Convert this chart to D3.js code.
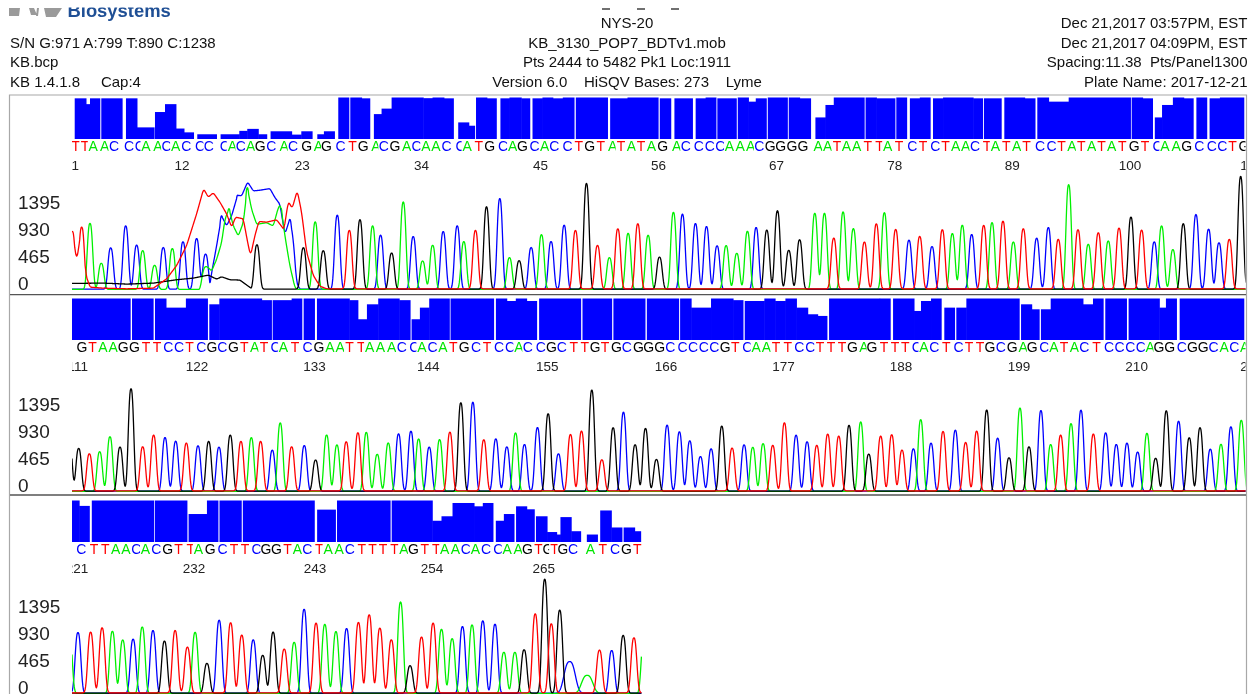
<!DOCTYPE html>
<html><head><meta charset="utf-8">
<script src="https://d3js.org/d3.v7.min.js"></script>
<style>html,body{margin:0;padding:0;background:#fff;overflow:hidden}svg{display:block;filter:blur(0.35px)}text{font-family:"Liberation Sans",Arial,sans-serif}</style>
</head><body><svg id="c" width="1260" height="694"></svg>
<script>
// ---- header text
const headerLeft = ["S/N G:971 A:799 T:890 C:1238","KB.bcp","KB 1.4.1.8\u00a0\u00a0\u00a0\u00a0\u00a0Cap:4"];
const headerCenter = ["NYS-20","KB_3130_POP7_BDTv1.mob","Pts 2444 to 5482 Pk1 Loc:1911","Version 6.0\u00a0\u00a0\u00a0\u00a0HiSQV Bases: 273\u00a0\u00a0\u00a0\u00a0Lyme"];
const headerRight = ["Dec 21,2017 03:57PM, EST","Dec 21,2017 04:09PM, EST","Spacing:11.38\u00a0\u00a0Pts/Panel1300","Plate Name: 2017-12-21"];
const rfuTicks = [0,465,930,1395];
const pointsPerPanel = 1300;
const totalBases = 273;

// ---- panel 1: base calls, peak location (scan points), peak height (RFU)
const firstBase1 = 1;
const bases1 = "TTAACCCAACACCCCACAGCACGAGCTGACGACAACCATGCAGCACCTGTATATAGACCCCAAACGGGGAATAATTATCTCTAACTATATCCTATATATGTCAAGCCCTGG";
const scans1 = [0.4,10.7,19.9,32.4,42.8,59.4,71.5,78.2,91.4,101,111,122.8,137.9,147.8,165.5,173.7,183.2,194,204.6,217,231,241,256,269.1,278,293.5,306.8,318.6,332.6,341.4,353.6,366.5,377.5,387.9,399,410.7,426.2,433.5,446.4,458.6,473.3,484,494.7,508,519.4,530,544.5,557,569.2,581.4,594.6,603.9,615.3,626,637.4,650,665.4,675.4,689.8,702,713.7,723.7,735.5,747.3,756.9,768.7,780.5,793,805,821.8,832.5,842.8,853.1,864.5,876.7,889.9,898.8,911.3,926,937.9,951.5,962.9,974,985,995.4,1008.7,1017.9,1030,1041.5,1052.5,1067.3,1080.2,1091.2,1102.7,1113,1124.4,1135.5,1146.5,1158.4,1171.6,1183.4,1197.4,1205.5,1218,1229.5,1243.5,1257.5,1269,1280.4,1293,1305];
const rfu1 = [987,1062,1137,448,712,1091,758,666,413,718,700,815,872,603,1263,1389,1619,1751,763,1600,1400,1200,712,1160,660,1274,1005,1194,1091,930,620,1504,907,488,758,993,1091,821,1005,1418,1561,545,488,718,941,821,1102,1005,1820,746,545,1033,964,1119,930,551,1326,1292,1131,1079,746,752,620,999,1062,1016,1349,666,850,1309,1309,872,1332,1045,804,1119,1320,1022,844,901,735,1016,959,1102,941,1091,1148,1165,815,1033,878,1062,850,1802,1016,775,964,832,1045,1240,1010,815,1091,683,1125,1286,1033,798,850,1940,900];
const qual1 = [[3,15.5,49],[15.5,19.9,42],[19.9,31.3,49],[32.4,56,49],[59.7,71.9,49],[71.9,91.4,14],[91.8,102.9,32.5],[102.9,115,42],[115,123.9,12.6],[123.9,135,8],[138.6,160.4,5.7],[164.4,185.1,5.7],[185.1,193.9,9.8],[193.9,206.1,12.2],[206.1,216,5.7],[219.7,243,9.3],[243,253.7,5.3],[253.7,266.2,9.3],[271.4,278.7,5.7],[278.7,290.9,9.3],[294.6,306.8,50],[307.9,320.4,50],[320.4,330,49],[334,342.5,30],[342.5,353.6,36.6],[353.6,388.6,50],[388.6,398.9,49.2],[398.9,411.5,50],[411.5,422.5,49],[427.3,439,20],[439,446,16],[447,459,50],[459,470,49],[474,484,49],[484,497,50],[497,507,49],[509.5,520.5,49],[520.5,532,50],[532,543,49],[543,556,50],[557.4,593,50],[595.4,614.6,49],[614.6,649,50],[650.3,663,49],[666.5,687,49],[690,701,49],[701,713,50],[714,735.5,49],[736.6,748.4,50],[748.4,756.5,45],[756.5,768.7,49],[769.8,792,50],[793,805,50],[805,817.7,49],[822.5,833.6,26],[833.6,842.8,41],[842.8,877,50],[878,890,50],[890,911,49],[912,924,50],[927,938,49],[938,950,50],[952.6,963.7,49],[963.7,997,50],[997,1008,49],[1009,1028.6,49],[1031.5,1054,50],[1054,1066,49],[1068,1080.5,50],[1080.5,1102.7,45],[1102.7,1171.6,50],[1172.4,1184.5,50],[1184.5,1196,49],[1198,1206,26],[1206,1218,41],[1218,1230,50],[1230,1241,49],[1244,1256,50],[1258.6,1270,49],[1270,1297,50]];
// dye-blob region of panel 1, read as [scan, RFU] points
const blobT = [[0.4,987],[5.2,488],[10.7,1062],[15.5,230],[19.9,29],[34.7,11],[60.5,0],[90,11],[104.7,172],[115.8,402],[126.8,746],[137.9,1292],[145.6,1722],[150.8,1579],[156.3,1653],[163.7,1492],[171,1292],[176.6,1062],[181,1234],[189.5,1205],[195,746],[197.6,574],[202.4,918],[206.8,1160],[215.3,1148],[226.4,1188],[234.5,1022],[239.3,1504],[243.7,1389],[249.2,1693],[254,1320],[259.6,631],[267,230],[274.3,46],[281.7,0]];
const blobC = [[151.9,0],[154.5,287],[160,746],[165.5,1263],[171,1091],[176.6,1263],[183.2,1619],[187.7,1607],[194.3,1848],[200.6,1693],[208,1705],[219,1733],[224.5,1579],[230,1464],[235.6,947],[241.1,1217],[244.8,861],[248.5,115],[252.2,0]];
const blobA = [[141.6,0],[145.3,344],[147.8,402],[150.8,373],[154.5,316],[160,517],[165.5,804],[169.2,1205],[173.7,1389],[178.5,1091],[184,918],[189.5,1148],[194,1751],[198.7,1378],[204.3,1119],[215.3,1148],[222.7,1091],[228.2,1406],[230.8,1464],[235.6,918],[241.1,402],[246.7,29],[249.2,0]];
const blobG = [[0.4,98],[34.7,103],[60.5,86],[90,103],[115.8,161],[134.2,189],[150.8,241],[160,172],[165.5,212],[174.8,161],[185.8,155],[196.9,29],[199.8,0]];

// ---- panel 2
const firstBase2 = 110;
const bases2 = "GGTAAGGTTCCTCGCGTATCATCGAATTAAACCACATGCTCCACCGCTTGTGCGGGCCCCCGTCAATTCCTTTGAGTTTCACTCTTGCGAGCATACTCCCCAGGCGGCACAC";
const scans2 = [-3,7.4,19.2,30.6,42,53.1,65.3,78.2,90.3,102.9,114.7,126.5,139.4,151.2,162.6,175.1,186.9,198.4,208.7,221.6,230.4,243,257,269.5,281.7,293.1,303.4,316.3,325.6,337.7,349.9,361.3,375,383.5,395.2,406.7,418.1,430.2,443.5,455.6,468.9,481.1,490.7,500.6,515,526.8,538.2,551.5,563.7,575.1,586.2,598.7,610.1,623,634.5,646.6,658.4,672,683.5,695.3,707.1,718.9,730.3,743.6,753.2,764.6,775.3,788.2,801.1,813.3,824,836.1,848.3,859.7,872.6,881.5,894.7,906.9,918.3,930.9,939,950.4,963.7,977.3,988.7,1000.9,1012,1024.1,1036.7,1048.8,1058.8,1072,1082.8,1093.8,1105.3,1116.3,1130,1143.6,1155.4,1167.2,1179,1189.3,1198.9,1210.7,1224.3,1236.1,1248,1259.4,1271.2,1282.2,1293.7,1306];
const rfu2 = [940,735,637,683,941,758,1762,758,959,924,861,821,781,855,758,964,850,924,850,706,1177,758,786,534,970,798,844,999,1016,637,832,987,1033,901,758,890,1010,1521,1533,878,901,763,1005,804,1096,1332,643,970,1027,1739,534,1091,1360,798,1079,545,1137,1022,867,597,729,1119,735,798,758,821,781,1171,964,850,781,976,941,1131,1194,637,941,964,700,729,1234,827,1022,1050,832,1027,1395,913,574,1435,763,1389,804,959,1165,1395,976,1005,804,827,672,999,563,1383,1205,918,1091,723,809,1108,1223,900];
const qual2 = [[0,64.9,50],[66.4,90.3,50],[91.8,104,50],[104,126,39],[126,150.4,50],[151.9,163,43],[163,209.8,50],[209.8,221.2,48],[222,243,48],[243,254.8,50],[256.3,268.8,50],[271,306.8,50],[306.8,316.3,48],[316.3,326.3,25],[326.3,338.8,43],[338.8,362,50],[362,374.6,48],[375.7,384.9,25],[384.9,395.2,39],[395.2,418,50],[418.8,467,50],[469,481,50],[481,491,47],[491,503,50],[503,514.6,47],[516.8,563.3,50],[564.8,597.6,50],[599,634.5,50],[636,671.7,50],[672.8,685,50],[685,707,39],[707,731.4,50],[731.4,742.9,48],[744.3,766,47],[766,777.9,50],[777.9,789.3,47],[789.3,801.5,50],[801.5,814,39],[814,825,31],[825,835.8,29],[837.6,893.6,50],[893.6,905.8,50],[908.4,931.6,50],[931.6,939.3,35],[939.3,950.4,47],[950.4,962.2,50],[965.1,977,39],[978.4,989.5,39],[989.5,1048.5,50],[1050,1061.8,43],[1061.8,1070.6,37],[1072,1082.8,37],[1082.8,1118.5,50],[1118.5,1129.6,43],[1129.6,1141.4,50],[1143.2,1167.2,50],[1169,1203,50],[1203,1210.3,39],[1210.3,1222.5,50],[1225.5,1297,50]];

// ---- panel 3
const firstBase3 = 220;
const bases3 = "ACTTAACACGTTAGCTTCGGTACTAACTTTTAGTTAACACCAAGTGTGCATCGTA";
const scans3 = [-3,6.6,20.6,33.3,44.7,56.1,67.6,77.7,89.6,102.3,114.1,127.7,136.2,149.3,162.8,175.5,187.8,200.5,211,222.5,234.8,245.8,256.8,270,279.7,292,303.8,316.9,328.8,340.6,353.3,363.5,374,386.7,399.5,408.8,420.6,432,442.6,454.5,468,477.8,490,500.2,512.5,523,530.3,539.6,550.6,570,583.6,597.1,609.8,621.7,633];
const rfu3 = [1060,1045,1045,1119,1068,918,930,1142,1079,895,1073,786,1050,511,1257,1205,993,918,649,1050,752,878,1446,1200,1188,1062,1114,1211,1343,1114,913,1573,471,959,1200,1102,941,1148,1177,1246,1188,706,706,746,1360,1963,1188,1429,545,310,735,735,993,947,1000];
const qual3 = [[0,7.9,50],[7.9,19.7,43.5],[21.9,90.9,50],[91.7,127.7,50],[129,149.3,33.7],[149.3,162,50],[163.2,187.8,50],[189,268.6,50],[271.2,292,39],[293.2,352.5,50],[353.7,398.6,50],[398.6,408.8,25.6],[408.8,421,31],[421,444.8,47],[444.8,454.5,43],[454.5,466.3,47],[468.9,477.8,25.6],[477.8,489.6,33.7],[491.3,503.1,43],[503.1,512,39.4],[513.3,525.6,31],[525.6,536.2,12],[536.2,540.4,9],[540.4,552.3,30],[552.3,563.3,13],[569.6,581.9,9],[584.4,596.7,38],[596.7,609,17.5],[610.3,622.5,17.5],[622.5,629.7,13]];
const traceEnd3 = 630;

// ---- colours and peak shape
const baseColors = {A:"#00e600",C:"#0000ff",G:"#000000",T:"#ff0000"};
const traceColors = {A:"#00f000",C:"#0000ff",G:"#000000",T:"#ff0000"};
const channelOrder = ["C","A","G","T"];
const floors = {A:3,C:5,G:7,T:12};
const broadPeaks3 = {268:6,269:6};
const peakPower = 2.6;

const panels = [
 {first:firstBase1,seq:bases1,scans:scans1,rfu:rfu1,qual:qual1,end:pointsPerPanel,blobs:{T:blobT,C:blobC,A:blobA,G:blobG},broad:{},sigma:2.95,
  barTop:97.5,letterY:150.7,labelY:169.5,baseline:289.5},
 {first:firstBase2,seq:bases2,scans:scans2,rfu:rfu2,qual:qual2,end:pointsPerPanel,blobs:{},broad:{},sigma:2.95,
  barTop:298.5,letterY:352.3,labelY:370.5,baseline:491.5},
 {first:firstBase3,seq:bases3,scans:scans3,rfu:rfu3,qual:qual3,end:traceEnd3,blobs:{},broad:broadPeaks3,sigma:3.1,
  barTop:500.5,letterY:553.8,labelY:572.5,baseline:693.5}
];

const svg = d3.select("#c");
// logo remnants and the clipped line above the title
const headG = svg.append("g");
headG.append("clipPath").attr("id","logoClip").append("rect").attr("x",0).attr("y",7.5).attr("width",300).attr("height",20);
const logo = headG.append("g").attr("clip-path","url(#logoClip)");
logo.append("text").attr("x",67.5).attr("y",16.5).attr("font-size",18.4).attr("font-weight","bold").attr("fill","#1f4f95").text("Biosystems");
logo.append("path").attr("fill","#9a9a9a").attr("d","M9 8H20L19 16H9Z M29 8H34L37 15H31Z M37 8H39L38 16H36Z M44 8H62L56 17H46Z");
headG.selectAll("line").data([606,641,675]).join("line").attr("x1",d=>d-4).attr("x2",d=>d+4).attr("y1",9).attr("y2",9).attr("stroke","#111").attr("stroke-width",1.2);

const hdr = (arr,px,anchor,ys)=>headG.append("g").selectAll("text").data(arr).join("text").attr("x",px).attr("y",(d,i)=>ys[i]).attr("text-anchor",anchor).attr("font-size",15).attr("fill","#111").text(d=>d);
hdr(headerLeft,10,"start",[48,67,87]);
hdr(headerCenter,627,"middle",[28,48,67,87]);
hdr(headerRight,1247.5,"end",[28,48,67,87]);

// frame
const frame = svg.append("g").attr("fill","none");
frame.append("path").attr("d","M9.5 694V95H1246.5V694").attr("stroke","#a8a8a8").attr("stroke-width",1.2);
[294.6,495].forEach(y=>frame.append("line").attr("x1",10).attr("x2",1246).attr("y1",y).attr("y2",y).attr("stroke","#555").attr("stroke-width",1.4));

const x = d3.scaleLinear().domain([0,pointsPerPanel]).range([72,1247]);
const qScale = d3.scaleLinear().domain([0,50]).range([41.5,0]);
const yRfu = d3.scaleLinear().domain([0,465]).range([0,-27]);
const pxLetter = 3.3;

svg.append("clipPath").attr("id","panelClip").append("rect").attr("x",72).attr("y",0).attr("width",1173.5).attr("height",694);

panels.forEach((p)=>{
  const g = svg.append("g");
  const clip = g.append("g").attr("clip-path","url(#panelClip)");
  const peaks = Array.from(p.seq).map((b,i)=>({base:b,num:p.first+i,s:p.scans[i],v:p.rfu[i]}));

  // quality bars: touching bars get a hair of overlap so that no seam shows
  clip.append("g").selectAll("rect").data(p.qual).join("rect")
    .attr("x",d=>x(d[0]))
    .attr("width",(d,i)=>x(d[1])-x(d[0])+(p.qual[i+1]&&p.qual[i+1][0]===d[1]?0.5:0))
    .attr("y",d=>p.barTop+qScale(d[2])).attr("height",d=>41.5-qScale(d[2])).attr("fill","#0000ff");

  // called bases: each letter overprints the one before with its white cell
  const lg = clip.append("g");
  peaks.filter(d=>d.s>=0&&d.num<=totalBases).forEach(d=>{
    const cx = x(d.s)+pxLetter;
    lg.append("rect").attr("x",cx-5.5).attr("y",p.letterY-11.5).attr("width",12).attr("height",14).attr("fill","#fff");
    lg.append("text").attr("x",cx).attr("y",p.letterY).attr("text-anchor","middle").attr("font-size",14).attr("fill",baseColors[d.base]).text(d.base);
  });

  // base-number labels
  clip.append("g").selectAll("text").data(peaks.filter(d=>d.num%11===1)).join("text")
    .attr("x",d=>d.num===1?x(d.s)+3:x(d.s)-1).attr("y",p.labelY).attr("text-anchor","middle").attr("font-size",13.5).attr("fill","#222").text(d=>d.num);

  // RFU axis
  const ax = g.append("g").attr("transform",`translate(18,${p.baseline})`)
    .call(d3.axisLeft(yRfu).tickValues(rfuTicks).tickSize(0).tickFormat(d3.format("d")));
  ax.select(".domain").remove();
  ax.selectAll("text").attr("x",0).attr("dy",0).attr("y",0).attr("text-anchor","start")
    .attr("font-size",19).attr("font-family","Liberation Sans").attr("fill","#222");

  // traces
  const line = d3.line().x(d=>x(d[0])).y(d=>p.baseline+yRfu(d[1]));
  const grid = d3.range(0,p.end+0.01,0.5);
  channelOrder.forEach(ch=>{
    const own = peaks.filter(d=>d.base===ch);
    const blob = p.blobs[ch];
    const bg = blob ? d3.scaleLinear().domain(blob.map(d=>d[0])).range(blob.map(d=>d[1])).clamp(true) : null;
    const pts = grid.map(s=>{
      let sum = 0;
      own.forEach(k=>{
        const sig = p.broad[k.num]||p.sigma;
        const dz = Math.abs(s-k.s)/sig;
        if(dz<5) sum += k.v*Math.exp(-0.5*Math.pow(dz,peakPower));
      });
      if(bg) sum = Math.max(sum,(bg(s-1)+bg(s)+bg(s+1))/3);
      return [s,sum+floors[ch]];
    });
    clip.append("path").attr("d",line(pts)).attr("fill","none").attr("stroke",traceColors[ch]).attr("stroke-width",1.3).attr("stroke-linejoin","round");
  });
});
</script></body></html>
